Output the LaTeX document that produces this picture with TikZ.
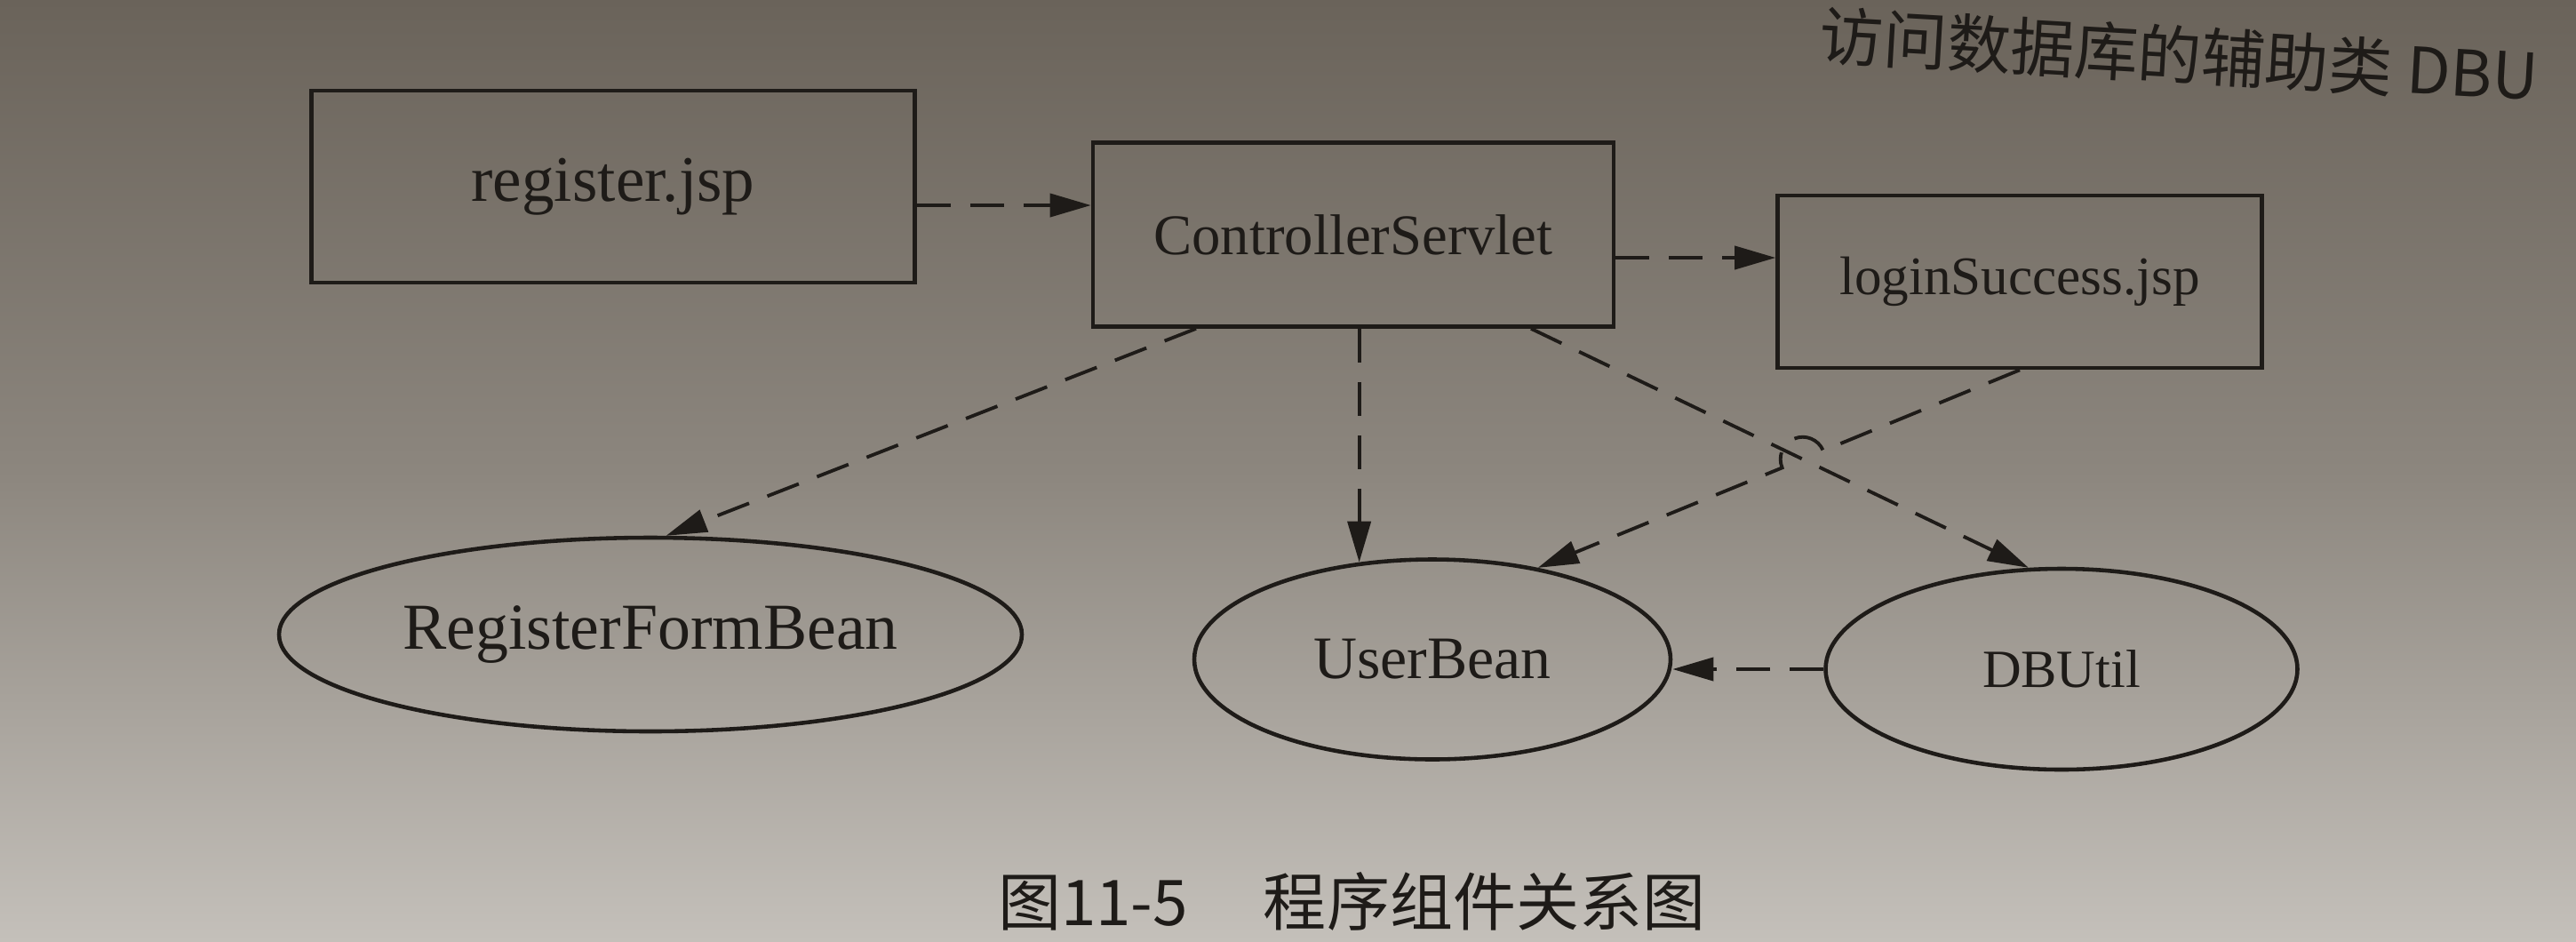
\documentclass[tikz,border=0pt]{standalone}
\usepackage{fontspec}
\setmainfont{Liberation Serif}
\newfontfamily\cjk{Noto Sans CJK SC}
\usetikzlibrary{arrows.meta,shapes.geometric,calc}
\definecolor{inkc}{RGB}{30,27,24}
\definecolor{paperT}{RGB}{106,99,90}
\definecolor{paperM}{RGB}{140,134,126}
\definecolor{paperB}{RGB}{196,192,186}

\begin{document}
\begin{tikzpicture}[line width=1.1pt,>={Triangle[length=4.6mm,width=2.6mm]},
  box/.style={draw=inkc,text=inkc,line width=1.3pt,rectangle,inner sep=0pt},
  bean/.style={draw=inkc,text=inkc,line width=1.3pt,ellipse,inner sep=0pt},
  dep/.style={draw=inkc,dash pattern=on 3.8mm off 2.2mm,->}]
% ---------- 纸面背景（1cm = 原图 100px） ----------
\useasboundingbox (0,0) rectangle (28.99,-10.59);
\clip (0,0) rectangle (28.99,-10.59);
\shade[top color=paperT,bottom color=paperB,middle color=paperM]
  (0,0) rectangle (28.99,-10.59);
% 上一段正文的末尾
\node[font=\cjk\fontsize{20.4}{24}\selectfont,text=inkc,anchor=base west,
      rotate=-3.3,inner sep=0pt] (prev) at (20.45,-0.66) {访问数据库的辅助类 DBU};
% ---------- 组件 ----------
\node[box,minimum width=6.79cm,minimum height=2.16cm,font=\fontsize{20.8}{24}\selectfont]
  (reg) at (6.90,-2.10) {register.jsp};
\node[box,minimum width=5.86cm,minimum height=2.07cm,font=\fontsize{18.4}{22}\selectfont]
  (ctrl) at (15.23,-2.64) {ControllerServlet};
\node[box,minimum width=5.45cm,minimum height=1.94cm,font=\fontsize{17.4}{21}\selectfont]
  (login) at (22.73,-3.17) {loginSuccess.jsp};
\node[bean,minimum width=8.36cm,minimum height=2.18cm,font=\fontsize{21}{25}\selectfont]
  (rfb) at (7.32,-7.14) {RegisterFormBean};
\node[bean,minimum width=5.36cm,minimum height=2.25cm,font=\fontsize{19.3}{23}\selectfont]
  (ub) at (16.12,-7.42) {UserBean};
\node[bean,minimum width=5.31cm,minimum height=2.26cm,font=\fontsize{17.2}{21}\selectfont]
  (db) at (23.20,-7.53) {DBUtil};
% ---------- 依赖（虚线箭头） ----------
\coordinate (r1) at ([yshift=-2.1mm]reg.east);
\draw[dep] (r1) -- (r1 -| ctrl.west);
\coordinate (c1) at ([yshift=-2.6mm]ctrl.east);
\draw[dep] (c1) -- (c1 -| login.west);
\coordinate (c2) at ([xshift=-17.7mm]ctrl.south);
\draw[dep] (c2) -- (rfb.81);
\draw[dep] (ctrl.south -| ub.127) -- (ub.127);
\coordinate (c3) at ([xshift=20mm]ctrl.south);
\draw[dep] (c3) -- (db.108);
% 交叉处跳线
\coordinate (hop) at (intersection of login.south--ub.41 and c3--db.108);
\draw[dep] (login.south) -- ($(hop)!2.5mm!(login.south)$)
  arc[start angle=22.6,end angle=202.6,radius=2.5mm] -- (ub.41);
\draw[dep] (db.west) -- (db.west -| ub.east);
% ---------- 图题 ----------
\node[font=\cjk\fontsize{20.2}{24}\selectfont,text=inkc] (cap) at (15.21,-10.14)
  {图11-5\hspace{1.2em}程序组件关系图};
\end{tikzpicture}
\end{document}
